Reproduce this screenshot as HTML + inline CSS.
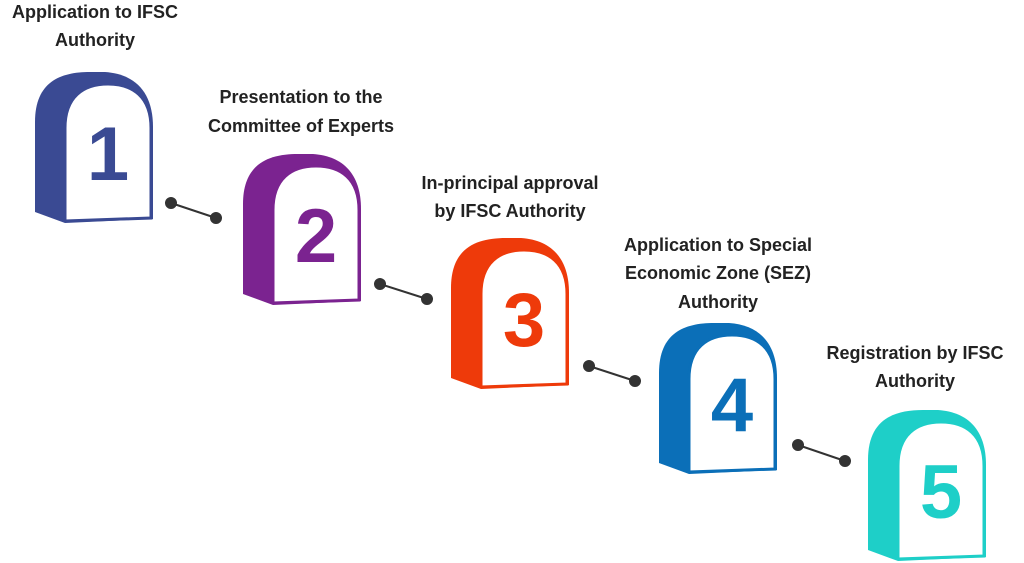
<!DOCTYPE html>
<html><head><meta charset="utf-8"><style>
html,body{margin:0;padding:0;background:#fff;}
svg{display:block;}
text{font-family:"Liberation Sans","DejaVu Sans",sans-serif;}
</style></head><body>
<svg width="1024" height="563" viewBox="0 0 1024 563" xmlns="http://www.w3.org/2000/svg">
<g font-weight="bold" font-size="18" fill="#222" text-anchor="middle">
<text x="95" y="18">Application to IFSC</text>
<text x="95" y="46">Authority</text>
<text x="301" y="103">Presentation to the</text>
<text x="301" y="132">Committee of Experts</text>
<text x="510" y="189">In-principal approval</text>
<text x="510" y="217">by IFSC Authority</text>
<text x="718" y="251">Application to Special</text>
<text x="718" y="279">Economic Zone (SEZ)</text>
<text x="718" y="308">Authority</text>
<text x="915" y="359">Registration by IFSC</text>
<text x="915" y="387">Authority</text>
</g>
<g stroke="#333" stroke-width="2" fill="#333">
<line x1="171" y1="203" x2="216" y2="218"/><circle cx="171" cy="203" r="5"/><circle cx="216" cy="218" r="5"/>
<line x1="380" y1="284" x2="427" y2="299"/><circle cx="380" cy="284" r="5"/><circle cx="427" cy="299" r="5"/>
<line x1="589" y1="366" x2="635" y2="381"/><circle cx="589" cy="366" r="5"/><circle cx="635" cy="381" r="5"/>
<line x1="798" y1="445" x2="845" y2="461"/><circle cx="798" cy="445" r="5"/><circle cx="845" cy="461" r="5"/>
</g>
<g id="s1" transform="translate(35,72)" fill="#3a4a93" stroke="#3a4a93">
<path d="M0,140 L0,50 C0,10 25,0 55,0 L70,0 C100,2 118,20 118,55 L118,147 L30,151 Z" stroke="none"/>
<path d="M30,149 L30,56 C30,25 48,12 73,12 C98,12 116,25 116,56 L116,146 Z" fill="#fff" stroke-width="3"/>
<text x="73" y="108" font-size="76" font-weight="bold" text-anchor="middle" stroke="none">1</text>
</g>
<g transform="translate(243,154)" fill="#7b2390" stroke="#7b2390">
<path d="M0,140 L0,50 C0,10 25,0 55,0 L70,0 C100,2 118,20 118,55 L118,147 L30,151 Z" stroke="none"/>
<path d="M30,149 L30,56 C30,25 48,12 73,12 C98,12 116,25 116,56 L116,146 Z" fill="#fff" stroke-width="3"/>
<text x="73" y="108" font-size="76" font-weight="bold" text-anchor="middle" stroke="none">2</text>
</g>
<g transform="translate(451,238)" fill="#ee3a0a" stroke="#ee3a0a">
<path d="M0,140 L0,50 C0,10 25,0 55,0 L70,0 C100,2 118,20 118,55 L118,147 L30,151 Z" stroke="none"/>
<path d="M30,149 L30,56 C30,25 48,12 73,12 C98,12 116,25 116,56 L116,146 Z" fill="#fff" stroke-width="3"/>
<text x="73" y="108" font-size="76" font-weight="bold" text-anchor="middle" stroke="none">3</text>
</g>
<g transform="translate(659,323)" fill="#0b6fb8" stroke="#0b6fb8">
<path d="M0,140 L0,50 C0,10 25,0 55,0 L70,0 C100,2 118,20 118,55 L118,147 L30,151 Z" stroke="none"/>
<path d="M30,149 L30,56 C30,25 48,12 73,12 C98,12 116,25 116,56 L116,146 Z" fill="#fff" stroke-width="3"/>
<text x="73" y="108" font-size="76" font-weight="bold" text-anchor="middle" stroke="none">4</text>
</g>
<g transform="translate(868,410)" fill="#1ecfc8" stroke="#1ecfc8">
<path d="M0,140 L0,50 C0,10 25,0 55,0 L70,0 C100,2 118,20 118,55 L118,147 L30,151 Z" stroke="none"/>
<path d="M30,149 L30,56 C30,25 48,12 73,12 C98,12 116,25 116,56 L116,146 Z" fill="#fff" stroke-width="3"/>
<text x="73" y="108" font-size="76" font-weight="bold" text-anchor="middle" stroke="none">5</text>
</g>
</svg>
</body></html>
